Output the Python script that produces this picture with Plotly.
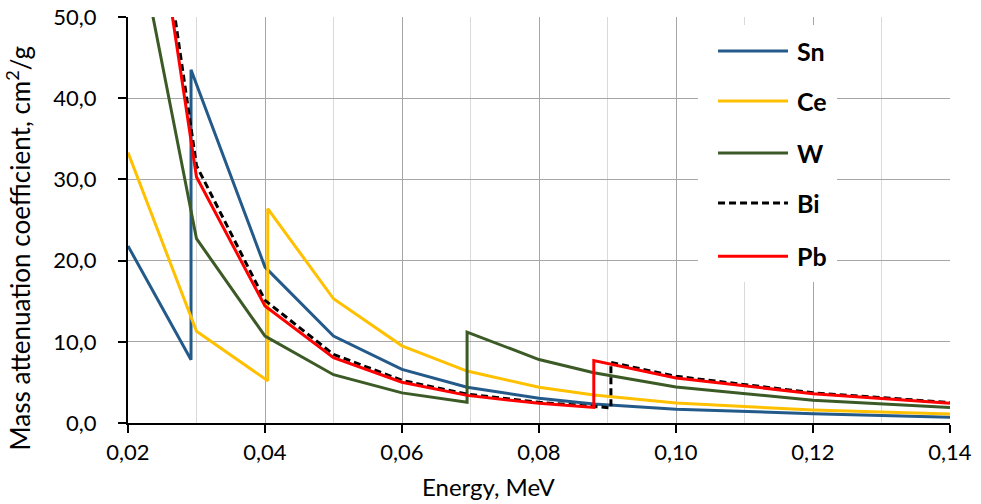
import plotly.graph_objects as go

# Mass attenuation coefficients (cm^2/g) versus photon energy (MeV).
# Repeated energies mark the K absorption edge of each element.
sn_energy = [0.02, 0.0292, 0.0292, 0.04, 0.05, 0.06, 0.0695, 0.08, 0.088, 0.10, 0.12, 0.14]
sn_mu = [21.8, 7.8, 43.5, 19.2, 10.7, 6.6, 4.4, 3.05, 2.35, 1.7, 1.15, 0.72]

ce_energy = [0.02, 0.03, 0.0404, 0.0404, 0.05, 0.06, 0.0695, 0.08, 0.088, 0.10, 0.12, 0.14]
ce_mu = [33.3, 11.3, 5.2, 26.4, 15.3, 9.5, 6.4, 4.4, 3.45, 2.45, 1.6, 1.1]

w_energy = [0.02, 0.03, 0.04, 0.05, 0.06, 0.0695, 0.0695, 0.08, 0.088, 0.10, 0.12, 0.14]
w_mu = [65.7, 22.7, 10.7, 5.95, 3.71, 2.55, 11.2, 7.81, 6.2, 4.44, 2.8, 1.9]

bi_energy = [0.02, 0.03, 0.04, 0.05, 0.06, 0.0695, 0.08, 0.088, 0.0905, 0.0905, 0.10, 0.12, 0.14]
bi_mu = [89.8, 31.7, 15.1, 8.45, 5.25, 3.55, 2.55, 2.0, 1.87, 7.45, 5.75, 3.72, 2.52]

pb_energy = [0.02, 0.03, 0.04, 0.05, 0.06, 0.0695, 0.08, 0.088, 0.088, 0.10, 0.12, 0.14]
pb_mu = [86.4, 30.3, 14.4, 8.04, 5.02, 3.4, 2.42, 1.91, 7.68, 5.55, 3.6, 2.42]

series_names = ["Sn", "Ce", "W", "Bi", "Pb"]
series_x = [sn_energy, ce_energy, w_energy, bi_energy, pb_energy]
series_y = [sn_mu, ce_mu, w_mu, bi_mu, pb_mu]
series_colors = ["#245a8a", "#ffc000", "#3c5a26", "#000000", "#ff0000"]
series_dash = ["solid", "solid", "solid", "7px,4px", "solid"]

x_range = [0.02, 0.14]
y_range = [0, 50]

FONT = "Lato"

fig = go.Figure()
for name, xs, ys, col, dash in zip(series_names, series_x, series_y, series_colors, series_dash):
    fig.add_trace(go.Scatter(
        x=xs, y=ys, mode="lines", name=name,
        line=dict(color=col, width=3, dash=dash),
        showlegend=False,
    ))

# Hand-built legend box with long line samples
legend_x0, legend_x1 = 0.6934, 0.8625
legend_y0, legend_y1 = 0.347, 0.980
entry_y = [0.916, 0.793, 0.665, 0.542, 0.411]
shapes = [dict(type="rect", xref="paper", yref="paper",
               x0=legend_x0, x1=legend_x1, y0=legend_y0, y1=legend_y1,
               fillcolor="white", line=dict(width=0), layer="above")]
annotations = []
for name, col, dash, yy in zip(series_names, series_colors, series_dash, entry_y):
    shapes.append(dict(type="line", xref="paper", yref="paper",
                       x0=0.7178, x1=0.8029, y0=yy, y1=yy,
                       line=dict(color=col, width=3, dash=dash), layer="above"))
    annotations.append(dict(text="<b>%s</b>" % name, xref="paper", yref="paper",
                            x=0.8114, y=yy, xanchor="left", yanchor="middle",
                            showarrow=False, font=dict(family=FONT, size=25, color="black")))

annotations.append(dict(text="Energy, MeV", xref="paper", yref="paper",
                        x=0.439, y=-0.1576, xanchor="center", yanchor="middle",
                        showarrow=False, font=dict(family=FONT, size=24, color="black")))
annotations.append(dict(text="Mass attenuation coefficient, cm<sup>2</sup>/g",
                        xref="paper", yref="paper", textangle=-90,
                        x=-0.1338, y=0.43, xanchor="center", yanchor="middle",
                        showarrow=False, font=dict(family=FONT, size=26, color="black")))

fig.update_layout(
    width=981, height=504,
    margin=dict(l=128, r=31, t=17, b=81, autoexpand=False),
    plot_bgcolor="white", paper_bgcolor="white",
    separators=", ",
    font=dict(family=FONT, size=22, color="black"),
    shapes=shapes, annotations=annotations,
    xaxis=dict(
        range=x_range, tick0=0.02, dtick=0.02, tickformat=".2f",
        showgrid=True, gridcolor="#a6a6a6", gridwidth=1.3,
        minor=dict(dtick=0.01, tick0=0.02, showgrid=True, gridcolor="#d9d9d9", gridwidth=1.3, ticks=""),
        showline=True, linecolor="black", linewidth=2,
        ticks="outside", ticklen=8, tickwidth=2, tickcolor="black",
        zeroline=False, automargin=False, ticklabelstandoff=1,
        tickfont=dict(family=FONT, size=22),
    ),
    yaxis=dict(
        range=y_range, dtick=10, tickformat=".1f",
        showgrid=True, gridcolor="#a6a6a6", gridwidth=1.3,
        showline=True, linecolor="black", linewidth=2,
        ticks="outside", ticklen=8, tickwidth=2, tickcolor="black",
        zeroline=False, automargin=False, ticklabelstandoff=17,
        tickfont=dict(family=FONT, size=22),
    ),
)

fig.write_html("out.html")
